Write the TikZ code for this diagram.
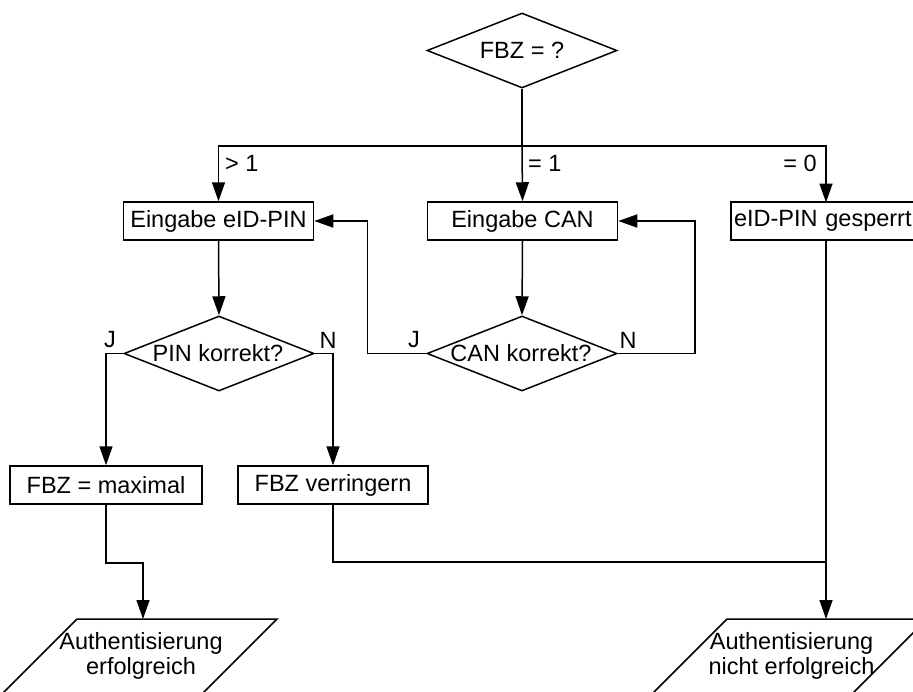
\documentclass[tikz,border=0pt]{standalone}
\usepackage{fontspec}
\setmainfont{Liberation Sans}
\usetikzlibrary{arrows.meta,shapes.geometric}
\begin{document}
\begin{tikzpicture}[x=1pt,y=-1pt,
  every node/.style={font=\fontsize{23.5}{25}\selectfont},
  line/.style={line width=1.5pt},
  arr/.style={line width=1.5pt,-{Triangle[length=19pt,width=13pt]}},
  box/.style={draw,line width=1.5pt,rectangle,minimum width=190pt,minimum height=38pt,inner sep=0pt},
  dia/.style={draw,line width=1.5pt,diamond,minimum width=190pt,minimum height=75pt,inner sep=0pt},
  lbl/.style={inner sep=0pt}]
\useasboundingbox (0,0) rectangle (913,691);
\clip (0,0) rectangle (913,691);
% decisions
\node[dia] (fbz) at (522,50.5) {};
\node[lbl] (fbzt) at (fbz) {FBZ = ?};
\node[dia] (pinq) at (219,353.5) {};
\node[lbl] (pinqt) at (218,353.5) {PIN korrekt?};
\node[dia] (canq) at (522,353.5) {};
\node[lbl] (canqt) at (521,353.5) {CAN korrekt?};
% boxes
\node[box] (pin) at (218.5,221) {Eingabe eID-PIN};
\node[box] (can) at (522.5,221) {Eingabe CAN};
\node[box,minimum width=200pt,text width=194pt,align=left] (gesp) at (831,221) {eID-PIN gesperrt};
\node[box,minimum width=192pt] (max) at (106,485) {FBZ = maximal};
\node[box] (ver) at (333,485) {FBZ verringern};
% outputs (parallelograms)
\draw[line] (77,619) -- (277,619) -- (197,699) -- (-3,699) -- cycle;
\draw[line] (727,619) -- (927,619) -- (847,699) -- (647,699) -- cycle;
\node[lbl,align=center] (ok) at (141,655.5) {Authentisierung\\erfolgreich};
\node[lbl,align=center] (fail) at (791.5,655.5) {Authentisierung\\nicht erfolgreich};
\coordinate (okin) at (143,619);
\coordinate (failin) at (826,619);
% connectors
\coordinate (split) at (522,146);
\draw[line] (fbz.south) -- (split);
\draw[arr] (split) -| (pin.north);
\draw[arr] (split) -- (can.north);
\draw[arr] (split) -| (826,202.5);
\node[lbl,anchor=west] (l1) at (225,163) {> 1};
\node[lbl,anchor=west] (l2) at (528,163) {= 1};
\node[lbl,anchor=east] (l0) at (817,163) {= 0};
\draw[arr] (pin.south) -- (pinq.north);
\draw[arr] (can.south) -- (canq.north);
\draw[arr] (pinq.west) -| (max.north);
\draw[arr] (pinq.east) -| (ver.north);
\node[lbl] (pj) at (110,340) {J};
\node[lbl] (pn) at (328,340) {N};
\draw[arr] (canq.west) -- ++(-59,0) |- (pin.east);
\draw[arr] (canq.east) -- ++(77,0) |- (can.east);
\node[lbl] (cj) at (414,340) {J};
\node[lbl] (cn) at (628,340) {N};
\draw[arr] (max.south) -- ++(0,58) -| (okin);
\coordinate (join) at (826,562);
\draw[arr] (826,240) -- (failin);
\draw[line] (ver.south) |- (join);
\end{tikzpicture}
\end{document}
